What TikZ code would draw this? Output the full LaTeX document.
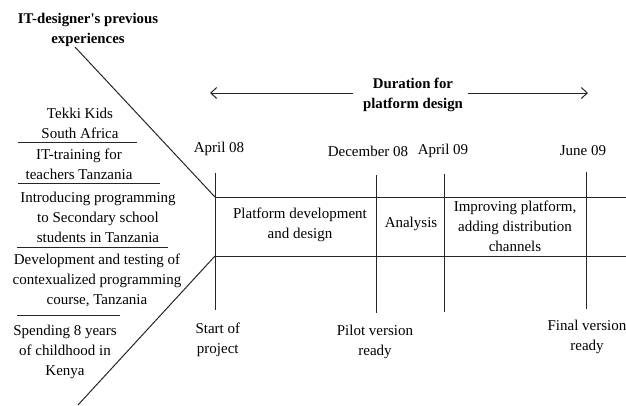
\documentclass[tikz,border=0pt]{standalone}
\usepackage{fontspec}
\setmainfont{Liberation Serif}
\usetikzlibrary{arrows.meta, positioning}

\begin{document}
\begin{tikzpicture}[x=1pt, y=-1pt, line width=1pt, draw=black!85,
    txt/.style={align=center, font=\fontsize{15}{20}\selectfont, inner sep=0pt},
    head/.style={align=center, font=\fontsize{14.8}{20}\selectfont\bfseries, inner sep=0pt}]
    \useasboundingbox (0,0) rectangle (626,405);

    % time bar
    \coordinate (barTL) at (215,197);
    \coordinate (barBL) at (215,256);
    \draw (barTL) -- (626,197);
    \draw (barBL) -- (626,256);
    \foreach \x/\t/\b in {215/173/310, 376/175/313, 444/174/312, 586/172/309}
        \draw (\x,\t) -- (\x,\b);

    % fish-bone diagonals
    \coordinate (diagTop) at (75,47);
    \coordinate (diagBot) at (78,405);
    \draw (diagTop) -- (barTL);
    \draw (barBL) -- (diagBot);

    % duration arrow
    \node[head] (dur) at (413,95) {Duration for\\platform design};
    \coordinate (arrL) at (210,93);
    \coordinate (arrR) at (588,93);
    \draw[-{Straight Barb[length=6pt, width=11pt]}] (353,93) -- (arrL);
    \draw[-{Straight Barb[length=6pt, width=11pt]}] (468,93) -- (arrR);

    % dates
    \node[txt] (apr08) at (219,149) {April 08};
    \node[txt] (dec08) at (368,151) {December 08};
    \node[txt] (apr09) at (443,151) {April 09};
    \node[txt] (jun09) at (583,151) {June 09};

    % phases
    \node[txt] (phase1) at (300,225) {Platform development\\and design};
    \node[txt] (phase2) at (411,224) {Analysis};
    \node[txt] (phase3) at (515,226) {Improving platform,\\adding distribution\\channels};

    % milestones
    \node[txt, anchor=west] (start) at (195,340) {Start of\\project};
    \node[txt] (pilot) at (375,342) {Pilot version\\ready};
    \node[txt] (final) at (587,337) {Final version\\ready};

    % previous experiences
    \node[head] (title) at (88,30) {IT-designer\textquotesingle s previous\\experiences};
    \node[txt] (exp1) at (80,123) {Tekki Kids\\South Africa};
    \node[txt] (exp2) at (79,164) {IT-training for\\teachers Tanzania};
    \node[txt] (exp3) at (98,217) {Introducing programming\\to Secondary school\\students in Tanzania};
    \node[txt] (exp4) at (97,280) {Development and testing of\\contexualized programming\\course, Tanzania};
    \node[txt] (exp5) at (65,352) {Spending 8 years\\of childhood in\\Kenya};
    \draw (18,142) -- (137,142);
    \draw (18,183) -- (160,183);
    \draw (17,247) -- (168,247);
    \draw (17,315) -- (120,315);
\end{tikzpicture}
\end{document}
